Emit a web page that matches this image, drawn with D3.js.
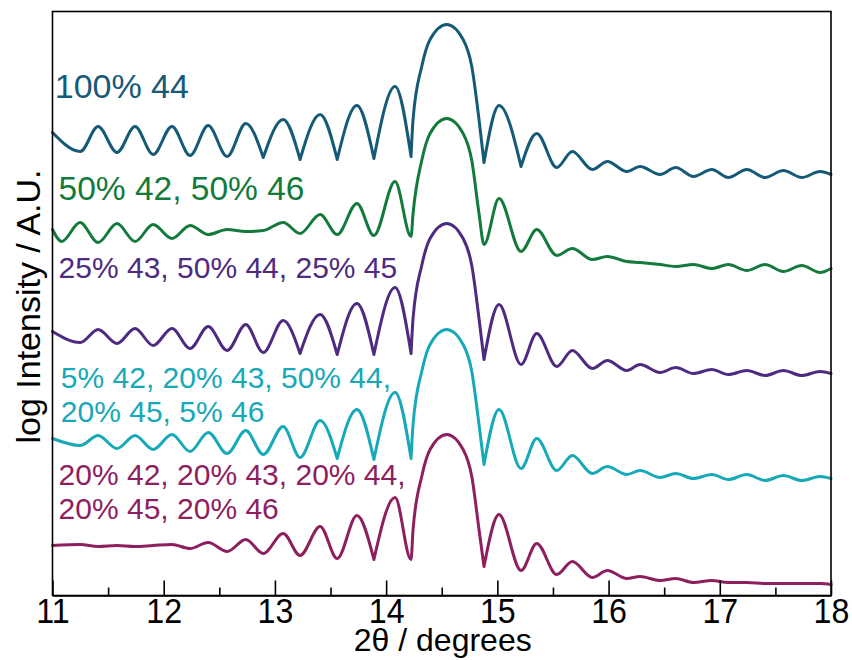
<!DOCTYPE html>
<html>
<head>
<meta charset="utf-8">
<script src="https://cdn.jsdelivr.net/npm/d3@7"></script>
<style>
  html, body { margin: 0; padding: 0; background: #fff; }
  svg { display: block; }
  text { font-family: "Liberation Sans", Arial, Helvetica, sans-serif; }
</style>
</head>
<body>
<svg id="chart" width="852" height="660"></svg>
<script>
// ---------------- DATA ----------------
// x: 2θ in degrees, y: log intensity (arbitrary units, curves offset vertically)
const xTicksMajor = [11, 12, 13, 14, 15, 16, 17, 18];
const xTicksMinor = [11.5, 12.5, 13.5, 14.5, 15.5, 16.5, 17.5];

const seriesNames = [
  ["100% 44"],
  ["50% 42, 50% 46"],
  ["25% 43, 50% 44, 25% 45"],
  ["5% 42, 20% 43, 50% 44,", "20% 45, 5% 46"],
  ["20% 42, 20% 43, 20% 44,", "20% 45, 20% 46"]
];
const seriesColors = ["#155a76", "#137a3c", "#4e2b80", "#17a9b8", "#8e1f5f"];

const curve100_44 = [
  [11.00,4.63],[11.25,4.44],[11.41,4.69],[11.58,4.43],[11.742,4.69],[11.905,4.41],
  [12.074,4.69],[12.237,4.40],[12.40,4.70],[12.57,4.39],[12.738,4.72],[12.895,4.38],
  [13.074,4.76],[13.226,4.36],[13.406,4.81],[13.56,4.36],[13.737,4.90],[13.89,4.37],
  [14.08,5.09],[14.224,4.39],[14.242,4.76],[14.32,5.29],[14.395,5.56],[14.545,5.71],
  [14.692,5.56],[14.77,5.29],[14.835,4.76],[14.88,4.33],[15.015,4.90],[15.213,4.29],
  [15.354,4.62],[15.534,4.28],[15.674,4.44],[15.854,4.26],[15.989,4.34],[16.164,4.24],
  [16.283,4.29],[16.463,4.21],[16.604,4.28],[16.763,4.19],[16.928,4.26],[17.077,4.18],
  [17.243,4.26],[17.407,4.18],[17.572,4.25],[17.737,4.18],[17.902,4.24],[18.00,4.21]
];

const curve50_42_50_46 = [
  [11.00,3.66],[11.083,3.54],[11.247,3.73],[11.41,3.53],[11.58,3.72],[11.742,3.54],
  [11.905,3.71],[12.074,3.57],[12.237,3.70],[12.40,3.61],[12.57,3.66],[12.738,3.64],
  [12.895,3.65],[13.074,3.73],[13.226,3.62],[13.406,3.81],[13.56,3.61],[13.737,3.92],
  [13.89,3.60],[14.08,4.14],[14.224,3.59],[14.242,3.82],[14.32,4.35],[14.395,4.62],
  [14.545,4.77],[14.692,4.62],[14.77,4.35],[14.835,3.82],[14.88,3.51],[15.015,3.97],
  [15.213,3.44],[15.354,3.66],[15.534,3.40],[15.674,3.47],[15.854,3.36],[15.989,3.39],
  [16.164,3.34],[16.283,3.33],[16.463,3.31],[16.604,3.29],[16.763,3.31],[16.928,3.27],
  [17.077,3.31],[17.243,3.25],[17.407,3.31],[17.572,3.24],[17.737,3.30],[17.902,3.23],
  [18.00,3.27]
];

const curve25_43_50_44_25_45 = [
  [11.00,2.64],[11.25,2.53],[11.41,2.66],[11.58,2.52],[11.742,2.67],[11.905,2.50],
  [12.074,2.67],[12.237,2.47],[12.40,2.69],[12.57,2.45],[12.738,2.71],[12.895,2.43],
  [13.074,2.75],[13.226,2.42],[13.406,2.81],[13.56,2.41],[13.737,2.92],[13.89,2.41],
  [14.08,3.08],[14.224,2.42],[14.242,2.77],[14.32,3.30],[14.395,3.57],[14.545,3.72],
  [14.692,3.57],[14.77,3.30],[14.835,2.77],[14.88,2.36],[15.015,2.91],[15.213,2.31],
  [15.354,2.62],[15.534,2.29],[15.674,2.45],[15.854,2.27],[15.989,2.35],[16.164,2.25],
  [16.283,2.31],[16.463,2.23],[16.604,2.28],[16.763,2.22],[16.928,2.26],[17.077,2.21],
  [17.243,2.25],[17.407,2.20],[17.572,2.25],[17.737,2.20],[17.902,2.24],[18.00,2.22]
];

const curve5_20_50_20_5 = [
  [11.00,1.57],[11.25,1.50],[11.41,1.60],[11.58,1.47],[11.742,1.60],[11.905,1.46],
  [12.074,1.61],[12.237,1.44],[12.40,1.63],[12.57,1.42],[12.738,1.65],[12.895,1.41],
  [13.074,1.69],[13.226,1.38],[13.406,1.75],[13.56,1.37],[13.737,1.86],[13.89,1.36],
  [14.08,2.03],[14.224,1.37],[14.242,1.71],[14.32,2.24],[14.395,2.51],[14.545,2.66],
  [14.692,2.51],[14.77,2.24],[14.835,1.71],[14.88,1.31],[15.015,1.86],[15.213,1.27],
  [15.354,1.57],[15.534,1.25],[15.674,1.40],[15.854,1.22],[15.989,1.29],[16.164,1.21],
  [16.283,1.25],[16.463,1.18],[16.604,1.22],[16.763,1.17],[16.928,1.21],[17.077,1.16],
  [17.243,1.21],[17.407,1.15],[17.572,1.20],[17.737,1.15],[17.902,1.19],[18.00,1.17]
];

const curve20x5 = [
  [11.00,0.50],[11.25,0.51],[11.41,0.49],[11.58,0.50],[11.742,0.49],[11.905,0.50],
  [12.074,0.51],[12.237,0.47],[12.40,0.53],[12.57,0.44],[12.738,0.56],[12.895,0.42],
  [13.074,0.62],[13.226,0.40],[13.406,0.69],[13.56,0.37],[13.737,0.80],[13.89,0.36],
  [14.08,0.98],[14.224,0.36],[14.242,0.66],[14.32,1.19],[14.395,1.46],[14.545,1.61],
  [14.692,1.46],[14.77,1.19],[14.835,0.66],[14.88,0.29],[15.015,0.81],[15.213,0.25],
  [15.354,0.52],[15.534,0.21],[15.674,0.34],[15.854,0.18],[15.989,0.25],[16.164,0.17],
  [16.283,0.19],[16.463,0.15],[16.604,0.17],[16.763,0.13],[16.928,0.15],[17.077,0.13],
  [17.243,0.13],[17.407,0.12],[17.572,0.12],[17.737,0.12],[17.902,0.12],[18.00,0.11]
];

const allCurves = [curve100_44, curve50_42_50_46, curve25_43_50_44_25_45, curve5_20_50_20_5, curve20x5];

// label anchor (x in degrees, y in log-intensity units, first-line baseline)
const labelPos = [[11.02, 4.98], [11.055, 3.96], [11.055, 3.18], [11.075, 2.08], [11.055, 1.11]];

// ---------------- CHART ----------------
const W = 852, H = 660;
const plot = { left: 52.5, right: 831, top: 11.5, bottom: 595.5 };

const svg = d3.select("#chart");
const x = d3.scaleLinear().domain([11, 18]).range([plot.left, plot.right]);
const y = d3.scaleLinear().domain([0, 5.84]).range([plot.bottom, plot.top]);

// curves: deep minima rendered as cusps (separate monotone pieces)
const line = d3.line().x(d => x(d[0])).y(d => y(d[1])).curve(d3.curveMonotoneX);
function pieces(data) {
  const segs = [];
  let cur = [data[0]];
  for (let i = 1; i < data.length; i++) {
    cur.push(data[i]);
    if (i < data.length - 1) {
      const p = data[i - 1][1], c = data[i][1], n = data[i + 1][1];
      if (c < p && c < n && Math.min(p, n) - c > 0.33) {
        segs.push(cur);
        cur = [data[i]];
      }
    }
  }
  segs.push(cur);
  return segs;
}

const gCurves = svg.append("g");
allCurves.forEach((data, k) => {
  gCurves.append("path")
    .attr("d", pieces(data).map(s => line(s)).join(""))
    .attr("fill", "none")
    .attr("stroke", seriesColors[k])
    .attr("stroke-width", 3)
    .attr("stroke-linecap", "round")
    .attr("stroke-linejoin", "round");
});

// labels
const labelSizes = [34, 33.5, 30, 30, 30];
seriesNames.forEach((lines, k) => {
  const t = svg.append("text")
    .attr("x", x(labelPos[k][0]))
    .attr("y", y(labelPos[k][1]))
    .attr("fill", seriesColors[k])
    .attr("font-size", labelSizes[k]);
  lines.forEach((s, j) => {
    t.append("tspan").attr("x", x(labelPos[k][0])).attr("dy", j === 0 ? 0 : 34).text(s);
  });
});

// frame
svg.append("rect")
  .attr("x", plot.left).attr("y", plot.top)
  .attr("width", plot.right - plot.left).attr("height", plot.bottom - plot.top)
  .attr("fill", "none").attr("stroke", "#000").attr("stroke-width", 1.6);

// x axis (ticks inside)
const axMajor = d3.axisBottom(x).tickValues(xTicksMajor).tickFormat(d3.format("d"))
  .tickSizeInner(-15).tickSizeOuter(0).tickPadding(3);
const gx = svg.append("g").attr("transform", `translate(0,${plot.bottom})`).call(axMajor);
gx.select(".domain").attr("stroke", "#000").attr("stroke-width", 1.6);
gx.selectAll(".tick line").attr("stroke", "#000").attr("stroke-width", 1.6);
gx.selectAll(".tick text").attr("fill", "#000").attr("font-size", 35)
  .attr("font-family", '"Liberation Sans", Arial, sans-serif')
  .attr("transform", "scale(0.92,1)");

const axMinor = d3.axisBottom(x).tickValues(xTicksMinor).tickFormat("")
  .tickSizeInner(-8).tickSizeOuter(0);
const gxm = svg.append("g").attr("transform", `translate(0,${plot.bottom})`).call(axMinor);
gxm.select(".domain").remove();
gxm.selectAll(".tick line").attr("stroke", "#000").attr("stroke-width", 1.6);

// axis titles
svg.append("text")
  .attr("x", (plot.left + plot.right) / 2 + 1).attr("y", 651)
  .attr("text-anchor", "middle").attr("font-size", 32).attr("fill", "#000")
  .text("2θ / degrees");

svg.append("text")
  .attr("transform", `translate(40,${(plot.top + plot.bottom) / 2 + 3}) rotate(-90)`)
  .attr("text-anchor", "middle").attr("font-size", 34).attr("fill", "#000")
  .text("log Intensity / A.U.");
</script>
</body>
</html>
